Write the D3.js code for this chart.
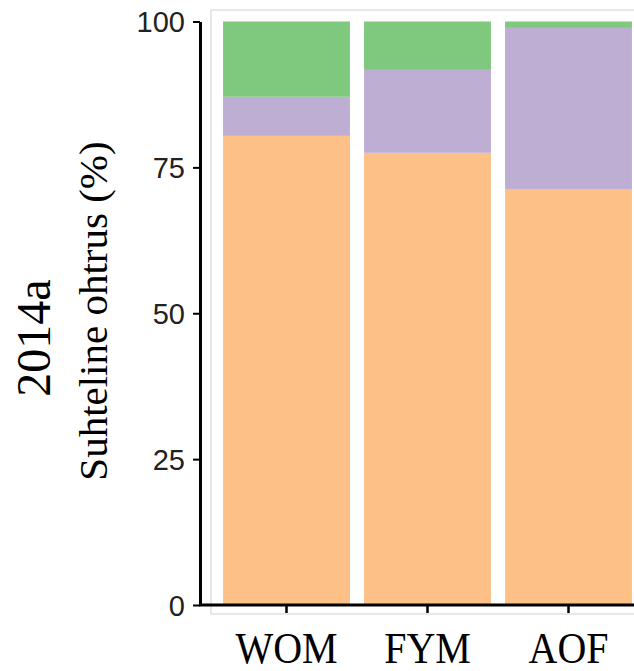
<!DOCTYPE html>
<html>
<head>
<meta charset="utf-8">
<script src="https://cdn.jsdelivr.net/npm/d3@7"></script>
<style>
body{margin:0;background:#fff;}
svg{display:block;}
</style>
</head>
<body>
<svg id="chart" width="634" height="671"></svg>
<script>
const categories = ["WOM", "FYM", "AOF"];
const seriesNames = ["orange", "purple", "green"];
const orangeValues = [80.4, 77.5, 71.3];
const purpleValues = [6.7, 14.2, 27.6];
const greenValues = [12.9, 8.3, 1.1];
const yTicks = [0, 25, 50, 75, 100];
const colors = ["#fdc086", "#beaed4", "#7fc97f"];

const svg = d3.select("#chart");
const y = d3.scaleLinear().domain([0, 100]).range([605, 21.5]);
const x = d3.scaleBand().domain(categories).range([216, 639]).paddingInner(0.1).paddingOuter(0.05);

// panel border
svg.append("rect").attr("x", 211).attr("y", 10).attr("width", 440).attr("height", 604)
  .attr("fill", "none").attr("stroke", "#d0d0d0").attr("stroke-width", 1);

const rows = categories.map((c, i) => ({cat: c, orange: orangeValues[i], purple: purpleValues[i], green: greenValues[i]}));
const stack = d3.stack().keys(seriesNames)(rows);

svg.append("g").selectAll("g").data(stack).join("g")
  .attr("fill", (d, i) => colors[i])
  .selectAll("rect").data(d => d).join("rect")
  .attr("x", d => x(d.data.cat))
  .attr("width", x.bandwidth())
  .attr("y", d => y(d[1]))
  .attr("height", d => y(d[0]) - y(d[1]));

// y axis
const yAxis = svg.append("g").attr("transform", "translate(200,0)")
  .call(d3.axisLeft(y).tickValues(yTicks).tickSize(7).tickSizeOuter(0).tickPadding(8));
yAxis.select(".domain").attr("stroke", "#000").attr("stroke-width", 3);
yAxis.selectAll(".tick line").attr("stroke", "#000").attr("stroke-width", 2);
yAxis.selectAll(".tick text").attr("font-family", "Liberation Sans, Arial, sans-serif")
  .attr("font-size", 29).attr("fill", "#222").attr("dy", "0.36em");

// x axis
const xAxis = svg.append("g").attr("transform", "translate(0,605)")
  .call(d3.axisBottom(x).tickSize(8).tickSizeOuter(0));
xAxis.select(".domain").remove();
svg.append("line").attr("x1", 199).attr("x2", 634).attr("y1", 605).attr("y2", 605)
  .attr("stroke", "#000").attr("stroke-width", 3);
xAxis.selectAll(".tick line").attr("stroke", "#000").attr("stroke-width", 2.5);
xAxis.selectAll(".tick text").attr("font-family", "Liberation Serif, Times New Roman, serif")
  .attr("font-size", 40).attr("fill", "#000").attr("y", 0).attr("dy", 0)
  .attr("transform", "translate(0,58) scale(1,1.1)");

// y labels
svg.append("text").attr("transform", "translate(107,311) rotate(-90)")
  .attr("text-anchor", "middle").attr("font-family", "Liberation Serif, Times New Roman, serif")
  .attr("font-size", 41).attr("fill", "#000").text("Suhteline ohtrus (%)");
svg.append("text").attr("transform", "translate(50,338) rotate(-90)")
  .attr("text-anchor", "middle").attr("font-family", "Liberation Serif, Times New Roman, serif")
  .attr("font-size", 48).attr("fill", "#000").text("2014a");
</script>
</body>
</html>
